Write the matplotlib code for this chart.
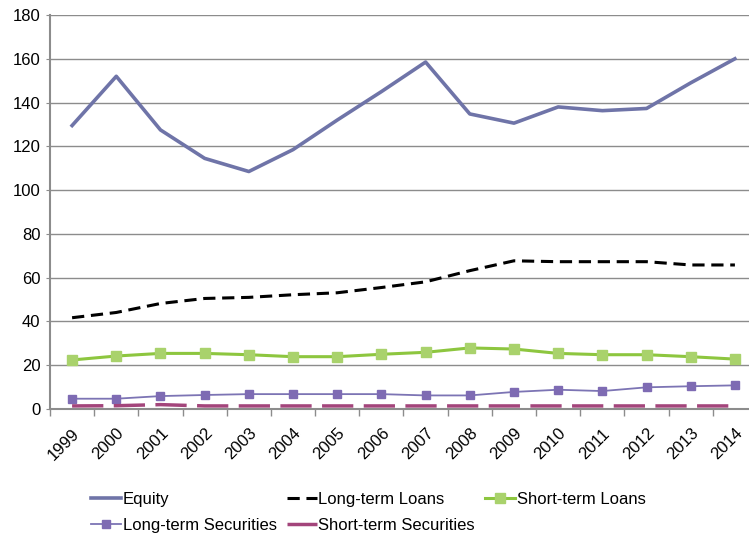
import matplotlib.pyplot as plt
import numpy as np

plt.rcParams['font.family'] = ['Liberation Sans', 'DejaVu Sans']

years = [str(y) for y in range(1999, 2015)]
equity = [129.5, 152, 127.5, 114.5, 108.5, 118.5, 132, 145, 158.5, 134.8, 130.6, 138, 136.3, 137.3, 149, 160]
lt_loans = [41.7, 44.1, 48.2, 50.5, 51, 52.2, 53.1, 55.5, 58.1, 63.2, 67.7, 67.3, 67.3, 67.3, 65.8, 65.8]
st_loans = [22.4, 24.2, 25.4, 25.4, 24.8, 23.9, 23.9, 25, 25.9, 27.9, 27.4, 25.4, 24.8, 24.8, 23.9, 22.8]
lt_secs = [4.7, 4.7, 5.9, 6.4, 6.8, 6.8, 6.8, 6.8, 6.2, 6.2, 7.8, 8.8, 8.2, 9.9, 10.4, 10.8]
st_secs = [1.4, 1.5, 2.0, 1.4, 1.4, 1.4, 1.4, 1.4, 1.4, 1.4, 1.4, 1.4, 1.4, 1.4, 1.4, 1.4]

fig = plt.figure(figsize=(7.49, 5.37), dpi=100)
ax = fig.add_axes([50 / 749, 1 - 409 / 537, 707 / 749, 394 / 537])

x = np.arange(len(years))
grid_col = '#8c8c8c'

l1, = ax.plot(x, equity, color='#6f74a8', lw=2.6, label='Equity')
l3, = ax.plot(x, lt_loans, color='black', lw=2.2, ls=(0, (4, 2.2)), label='Long-term Loans')
l5, = ax.plot(x, st_loans, color='#8dc63f', lw=2.2, marker='s', ms=6.5,
              mfc='#a9d26c', mec='#a9d26c', label='Short-term Loans')
l2, = ax.plot(x, lt_secs, color='#7c74b4', lw=1.3, marker='s', ms=6,
              mfc='#7e6bb3', mec='#7e6bb3', label='Long-term Securities')
l4, = ax.plot(x, st_secs, color='#a3457b', lw=2.5, ls=(0, (9, 3)), label='Short-term Securities',
              zorder=3)

ax.set_xlim(-0.5, len(years) - 0.5)
ax.set_ylim(0, 180)
ax.set_yticks(range(0, 181, 20))
ax.yaxis.grid(True, color=grid_col, lw=1)
ax.set_axisbelow(True)

ax.set_xticks(x)
ax.set_xticklabels(years, rotation=45, ha='right', rotation_mode='anchor', fontsize=12)
ax.set_xticks(np.arange(-0.5, len(years), 1), minor=True)
ax.tick_params(axis='x', which='major', length=0, pad=12)
ax.tick_params(axis='x', which='minor', length=5, color=grid_col, width=1)
ax.tick_params(axis='y', length=3, color=grid_col, labelsize=12, pad=4)

for s in ['top', 'right']:
    ax.spines[s].set_visible(False)
ax.spines['left'].set_color(grid_col)
ax.spines['left'].set_linewidth(1.5)
ax.spines['bottom'].set_color(grid_col)
ax.spines['bottom'].set_linewidth(1.5)

fig.legend(handles=[l1, l2, l3, l4, l5], ncol=3, loc='upper left',
           bbox_to_anchor=(91 / 749, 1 - 492 / 537), frameon=False, fontsize=12,
           handlelength=1.8, handletextpad=0.1, columnspacing=0.6, labelspacing=0.65,
           borderaxespad=0, borderpad=0)

fig.savefig('out.png', dpi=100)
